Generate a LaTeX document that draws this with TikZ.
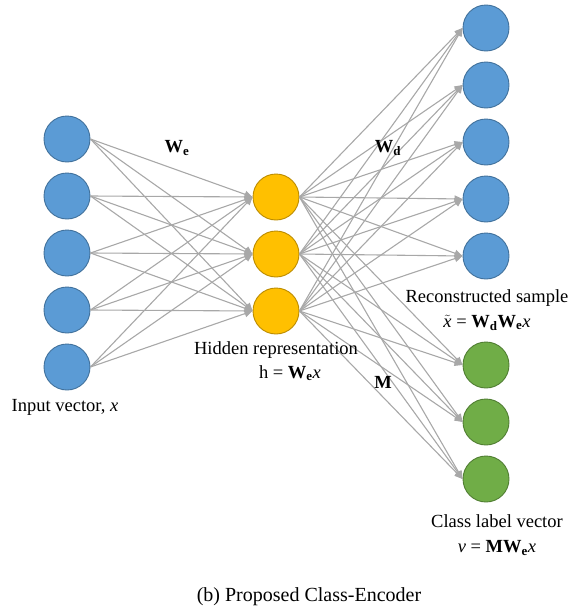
\documentclass[tikz,border=0pt]{standalone}
\usepackage{fontspec}
\setmainfont{Liberation Serif}
\usetikzlibrary{arrows.meta}

\definecolor{inblue}{RGB}{91,155,213}
\definecolor{inblueline}{RGB}{65,113,156}
\definecolor{hidorange}{RGB}{255,192,0}
\definecolor{hidorangeline}{RGB}{188,140,0}
\definecolor{outgreen}{RGB}{112,173,71}
\definecolor{outgreenline}{RGB}{80,126,50}
\definecolor{wiregray}{RGB}{168,168,168}

\tikzset{
  unit/.style={circle,minimum size=46pt,inner sep=0pt,line width=0.9pt},
  inunit/.style={unit,draw=inblueline,fill=inblue},
  hidunit/.style={unit,draw=hidorangeline,fill=hidorange},
  clsunit/.style={unit,draw=outgreenline,fill=outgreen},
  wire/.style={draw=wiregray,line width=1.1pt,-{Triangle[length=8pt,width=7pt]}},
  lbl/.style={font=\fontsize{18.5}{25}\selectfont,inner sep=0pt,align=center},
}

\begin{document}
\begin{tikzpicture}[x=1pt,y=-1pt]
    \useasboundingbox (0,0) rectangle (575,613);
    % Input layer
    \node[inunit] (i1) at (67,139) {};
    \node[inunit] (i2) at (67,196) {};
    \node[inunit] (i3) at (67,253) {};
    \node[inunit] (i4) at (67,310) {};
    \node[inunit] (i5) at (67,367) {};
    % Hidden layer
    \node[hidunit] (h1) at (276,197) {};
    \node[hidunit] (h2) at (276,254) {};
    \node[hidunit] (h3) at (276,311) {};
    % Reconstruction
    \node[inunit] (o1) at (486,28) {};
    \node[inunit] (o2) at (486,85) {};
    \node[inunit] (o3) at (486,142) {};
    \node[inunit] (o4) at (486,199) {};
    \node[inunit] (o5) at (486,256) {};
    % Class labels
    \node[clsunit] (c1) at (486,365) {};
    \node[clsunit] (c2) at (486,422) {};
    \node[clsunit] (c3) at (486,479) {};
    % Weights
    \foreach \i in {1,...,5}
      \foreach \j in {1,2,3}
        \draw[wire] (i\i.east) -- (h\j.west);
    \foreach \j in {1,2,3} {
      \foreach \k in {1,...,5}
        \draw[wire] (h\j.east) -- (o\k.west);
      \foreach \k in {1,2,3}
        \draw[wire] (h\j.east) -- (c\k.west);
    }
    % Labels
    \node[lbl] (we) at (177,148) {\textbf{W}\textsubscript{\textbf{e}}};
    \node[lbl] (wd) at (388,148) {\textbf{W}\textsubscript{\textbf{d}}};
    \node[lbl] (m) at (383,382) {\textbf{M}};
    \node[lbl] (inlbl) at (65,407) {Input vector, \textit{x}};
    \node[lbl] (hidlbl) at (276,350) {Hidden representation};
    \node[lbl] (hideq) at (290,373) {h = \textbf{W}\textsubscript{\textbf{e}}\textit{x}};
    \node[lbl] (reclbl) at (487,310) {Reconstructed sample\\
      $\tilde{\mathit{x}}$ = \textbf{W}\textsubscript{\textbf{d}}\textbf{W}\textsubscript{\textbf{e}}\textit{x}};
    \node[lbl] (clslbl) at (497,535) {Class label vector\\
      \textit{v} = \textbf{MW}\textsubscript{\textbf{e}}\textit{x}};
    % Caption
    \node[font=\fontsize{20}{24}\selectfont] (cap) at (309,597) {(b) Proposed Class-Encoder};
\end{tikzpicture}
\end{document}
